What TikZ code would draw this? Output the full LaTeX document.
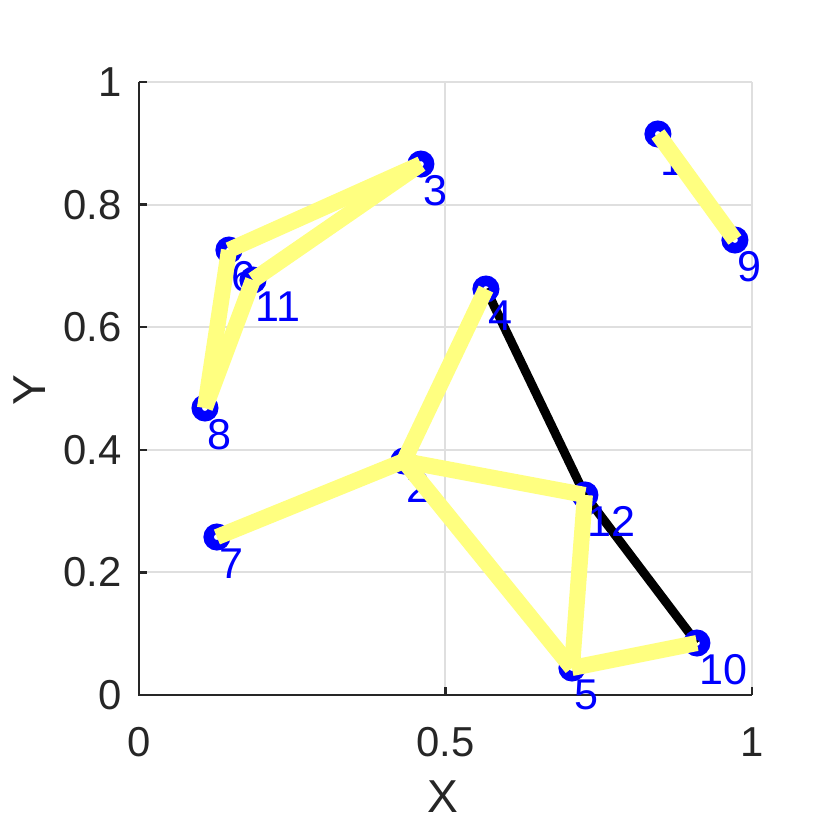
\documentclass[tikz,border=0pt]{standalone}
\usepackage{fontspec}
\setmainfont{Liberation Sans}
\definecolor{hiyellow}{RGB}{255,255,128}
\definecolor{axgray}{RGB}{38,38,38}
\definecolor{gridgray}{RGB}{223,223,223}
\tikzset{
  marker/.style={circle,draw=blue,line width=3.4pt,inner sep=0pt,minimum size=0.188cm},
  vlabel/.style={anchor=north west,inner sep=0pt,text=blue,font=\fontsize{14}{16}\selectfont},
  ticklabel/.style={inner sep=0pt,text=axgray,font=\fontsize{13.6}{16}\selectfont},
  hiedge/.style={hiyellow,line width=5.2pt},
  plainedge/.style={black,line width=2.9pt}
}
\begin{document}
\begin{tikzpicture}[x=7cm,y=7cm]
\useasboundingbox (-1.587cm,-1.542cm) rectangle (7.891cm,7.937cm);

%Grid
\draw[gridgray,line width=0.65pt] (0.5,0) -- (0.5,1) (1,0) -- (1,1);
\draw[gridgray,line width=0.65pt] (0,0.2) -- (1,0.2) (0,0.4) -- (1,0.4) (0,0.6) -- (1,0.6) (0,0.8) -- (1,0.8) (0,1) -- (1,1);

%Axes
\draw[axgray,line width=0.8pt] (0,1) -- (0,0) -- (1,0);
%Ticks
\draw[axgray,line width=0.8pt] (0,0.2) -- ++(0.091cm,0) (0,0.4) -- ++(0.091cm,0) (0,0.6) -- ++(0.091cm,0) (0,0.8) -- ++(0.091cm,0) (0,1) -- ++(0.091cm,0);
\draw[axgray,line width=0.8pt] (0.5,0) -- ++(0,0.091cm) (1,0) -- ++(0,0.091cm);

% Tick labels
\node[ticklabel,anchor=east] (ty0) at ([xshift=-0.194cm]0,0) {0};
\node[ticklabel,anchor=east] (ty2) at ([xshift=-0.194cm]0,0.2) {0.2};
\node[ticklabel,anchor=east] (ty4) at ([xshift=-0.194cm]0,0.4) {0.4};
\node[ticklabel,anchor=east] (ty6) at ([xshift=-0.194cm]0,0.6) {0.6};
\node[ticklabel,anchor=east] (ty8) at ([xshift=-0.194cm]0,0.8) {0.8};
\node[ticklabel,anchor=east] (ty10) at ([xshift=-0.194cm]0,1) {1};
\node[ticklabel,anchor=north] (tx0) at ([yshift=-0.365cm]0,0) {0};
\node[ticklabel,anchor=north] (tx5) at ([yshift=-0.365cm]0.5,0) {0.5};
\node[ticklabel,anchor=north] (tx10) at ([yshift=-0.365cm]1,0) {1};
% Axis labels
\node[ticklabel,anchor=north,font=\fontsize{15}{17}\selectfont] (xlab) at ([yshift=-0.97cm]0.496,0) {X};
\node[ticklabel,rotate=90,font=\fontsize{15}{17}\selectfont] (ylab) at ([xshift=-1.245cm]0,0.4976) {Y};

%Vertices
\coordinate (n1) at (0.8467,0.9152);
\coordinate (n2) at (0.4323,0.3817);
\coordinate (n3) at (0.4600,0.8662);
\coordinate (n4) at (0.5661,0.6623);
\coordinate (n5) at (0.7064,0.0440);
\coordinate (n6) at (0.1468,0.7259);
\coordinate (n7) at (0.1272,0.2577);
\coordinate (n8) at (0.1077,0.4682);
\coordinate (n9) at (0.9723,0.7423);
\coordinate (n10) at (0.9103,0.0848);
\coordinate (n11) at (0.1860,0.6770);
\coordinate (n12) at (0.7276,0.3263);

%Straight Lines (black)
\draw[plainedge] (n4) -- (n12);
\draw[plainedge] (n12) -- (n10);

%Shape: Circle
\node[marker] (m1) at (n1) {};
\node[marker] (m2) at (n2) {};
\node[marker] (m3) at (n3) {};
\node[marker] (m4) at (n4) {};
\node[marker] (m5) at (n5) {};
\node[marker] (m6) at (n6) {};
\node[marker] (m7) at (n7) {};
\node[marker] (m8) at (n8) {};
\node[marker] (m9) at (n9) {};
\node[marker] (m10) at (n10) {};
\node[marker] (m11) at (n11) {};
\node[marker] (m12) at (n12) {};

% Text Node
\node[vlabel] (l1) at ([shift={(0.023cm,-0.126cm)}]n1) {1};
\node[vlabel] (l2) at ([shift={(0.023cm,-0.126cm)}]n2) {2};
\node[vlabel] (l3) at ([shift={(0.023cm,-0.126cm)}]n3) {3};
\node[vlabel] (l4) at ([shift={(0.023cm,-0.126cm)}]n4) {4};
\node[vlabel] (l5) at ([shift={(0.023cm,-0.126cm)}]n5) {5};
\node[vlabel] (l6) at ([shift={(0.023cm,-0.126cm)}]n6) {6};
\node[vlabel] (l7) at ([shift={(0.023cm,-0.126cm)}]n7) {7};
\node[vlabel] (l8) at ([shift={(0.023cm,-0.126cm)}]n8) {8};
\node[vlabel] (l9) at ([shift={(0.023cm,-0.126cm)}]n9) {9};
\node[vlabel] (l10) at ([shift={(0.023cm,-0.126cm)}]n10) {10};
\node[vlabel] (l11) at ([shift={(0.023cm,-0.126cm)}]n11) {11};
\node[vlabel] (l12) at ([shift={(0.023cm,-0.126cm)}]n12) {12};

%Straight Lines (highlighted)
\draw[hiedge] (n7) -- (n2);
\draw[hiedge] (n2) -- (n4);
\draw[hiedge] (n2) -- (n12);
\draw[hiedge] (n2) -- (n5);
\draw[hiedge] (n12) -- (n5);
\draw[hiedge] (n5) -- (n10);
\draw[hiedge] (n8) -- (n6);
\draw[hiedge] (n8) -- (n11);
\draw[hiedge] (n6) -- (n3);
\draw[hiedge] (n11) -- (n3);
\draw[hiedge] (n1) -- (n9);
\end{tikzpicture}
\end{document}
